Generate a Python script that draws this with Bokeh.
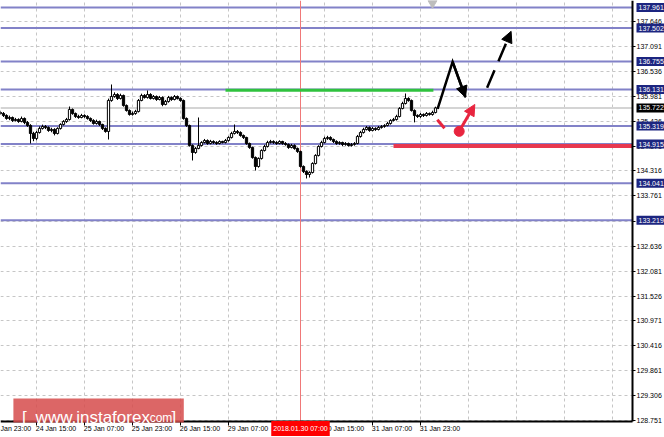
import numpy as np
from bokeh.plotting import figure
from bokeh.models import (ColumnDataSource, LinearAxis, FixedTicker, Grid, Span, Label,
                          Arrow, NormalHead, PrintfTickFormatter)
from bokeh.embed import file_html
from bokeh.resources import INLINE

# ---- hourly bars (bar index 0 = 24 Jan 03:00) ----
opens = [
    135.620, 135.598, 135.553, 135.487, 135.509, 135.442, 135.464, 135.420, 135.487, 135.397,
    135.330, 135.152, 135.041, 135.174, 135.264, 135.308, 135.286, 135.219, 135.241, 135.152,
    135.264, 135.353, 135.420, 135.464, 135.687, 135.598, 135.531, 135.509, 135.553, 135.531,
    135.487, 135.442, 135.375, 135.420, 135.353, 135.264, 135.197, 135.888, 135.977, 136.022,
    135.933, 136.000, 135.777, 135.665, 135.576, 135.598, 135.643, 135.888, 136.000, 135.955,
    136.022, 135.933, 135.977, 135.910, 135.955, 135.799, 135.866, 135.955, 135.910, 135.977,
    135.933, 135.888, 135.487, 135.330, 134.884, 134.728, 134.818, 134.884, 134.951, 134.996,
    134.929, 134.974, 134.951, 134.929, 134.974, 134.951, 134.996, 135.063, 135.152, 135.197,
    135.174, 135.107, 135.063, 134.929, 134.840, 134.617, 134.416, 134.595, 134.773, 134.862,
    134.951, 134.974, 134.951, 134.929, 134.974, 134.929, 134.907, 134.840, 134.884, 134.818,
    134.751, 134.416, 134.305, 134.238, 134.282, 134.483, 134.662, 134.862, 134.951, 135.041,
    135.063, 135.018, 134.974, 134.929, 134.951, 134.907, 134.929, 134.884, 134.907, 134.929,
    135.085, 135.174, 135.241, 135.286, 135.219, 135.264, 135.241, 135.286, 135.308, 135.330,
    135.375, 135.442, 135.464, 135.531, 135.710, 135.821, 135.933, 135.888, 135.665, 135.553,
    135.531, 135.576, 135.553, 135.598, 135.576, 135.620,
]
highs = [
    135.66, 135.63, 135.58, 135.55, 135.53, 135.50, 135.49, 135.53, 135.51, 135.43,
    135.36, 135.19, 135.21, 135.31, 135.35, 135.34, 135.31, 135.28, 135.27, 135.29,
    135.38, 135.45, 135.50, 135.754, 135.71, 135.62, 135.57, 135.59, 135.58, 135.56,
    135.51, 135.47, 135.46, 135.44, 135.37, 135.29, 135.93, 136.245, 136.07, 136.05,
    136.04, 136.02, 135.80, 135.69, 135.64, 135.68, 135.92, 136.04, 136.03, 136.111,
    136.05, 136.01, 136.00, 135.99, 135.98, 135.90, 135.99, 135.98, 136.01, 136.00,
    135.96, 135.91, 135.51, 135.35, 134.91, 134.85, 135.509, 134.98, 135.03, 135.02,
    135.01, 135.00, 134.98, 135.00, 134.99, 135.03, 135.09, 135.19, 135.353, 135.23,
    135.20, 135.13, 135.08, 134.95, 134.86, 134.64, 134.62, 134.80, 134.90, 134.99,
    135.01, 135.00, 134.98, 135.00, 134.99, 134.96, 134.93, 134.92, 134.91, 134.84,
    134.77, 134.44, 134.33, 134.31, 134.51, 134.69, 134.89, 134.99, 135.08, 135.10,
    135.09, 135.04, 135.00, 134.98, 134.97, 134.96, 134.95, 134.94, 134.96, 135.12,
    135.21, 135.28, 135.32, 135.31, 135.30, 135.29, 135.32, 135.34, 135.36, 135.41,
    135.47, 135.50, 135.57, 135.74, 135.86, 136.044, 135.96, 135.91, 135.69, 135.58,
    135.61, 135.60, 135.63, 135.62, 135.66, 135.75,
]
lows = [
    135.57, 135.52, 135.46, 135.45, 135.41, 135.42, 135.39, 135.40, 135.36, 135.30,
    134.929, 134.98, 135.00, 135.15, 135.24, 135.25, 135.19, 135.18, 135.11, 135.13,
    135.24, 135.33, 135.39, 135.44, 135.57, 135.50, 135.48, 135.49, 135.50, 135.46,
    135.41, 135.35, 135.35, 135.32, 135.23, 135.17, 135.018, 135.86, 135.95, 135.90,
    135.91, 135.75, 135.64, 135.55, 135.55, 135.57, 135.62, 135.87, 135.93, 135.93,
    135.91, 135.91, 135.88, 135.89, 135.76, 135.78, 135.84, 135.88, 135.89, 135.91,
    135.86, 135.46, 135.30, 134.86, 134.550, 134.70, 134.80, 134.86, 134.93, 134.90,
    134.91, 134.92, 134.90, 134.91, 134.93, 134.93, 134.97, 135.04, 135.13, 135.14,
    135.08, 135.03, 134.90, 134.81, 134.59, 134.327, 134.39, 134.57, 134.75, 134.84,
    134.93, 134.92, 134.90, 134.91, 134.90, 134.88, 134.81, 134.82, 134.79, 134.72,
    134.39, 134.27, 134.149, 134.17, 134.26, 134.46, 134.64, 134.84, 134.93, 135.01,
    134.99, 134.94, 134.90, 134.90, 134.87, 134.88, 134.86, 134.86, 134.88, 134.91,
    135.06, 135.15, 135.22, 135.19, 135.20, 135.21, 135.22, 135.26, 135.28, 135.31,
    135.35, 135.42, 135.44, 135.51, 135.69, 135.80, 135.86, 135.64, 135.40, 135.50,
    135.50, 135.52, 135.53, 135.55, 135.55, 135.60,
]
closes = [
    135.598, 135.553, 135.487, 135.509, 135.442, 135.464, 135.420, 135.487, 135.397, 135.330,
    135.152, 135.041, 135.174, 135.264, 135.308, 135.286, 135.219, 135.241, 135.152, 135.264,
    135.353, 135.420, 135.464, 135.687, 135.598, 135.531, 135.509, 135.553, 135.531, 135.487,
    135.442, 135.375, 135.420, 135.353, 135.264, 135.197, 135.888, 135.977, 136.022, 135.933,
    136.000, 135.777, 135.665, 135.576, 135.598, 135.643, 135.888, 136.000, 135.955, 136.022,
    135.933, 135.977, 135.910, 135.955, 135.799, 135.866, 135.955, 135.910, 135.977, 135.933,
    135.888, 135.487, 135.330, 134.884, 134.728, 134.818, 134.884, 134.951, 134.996, 134.929,
    134.974, 134.951, 134.929, 134.974, 134.951, 134.996, 135.063, 135.152, 135.197, 135.174,
    135.107, 135.063, 134.929, 134.840, 134.617, 134.416, 134.595, 134.773, 134.862, 134.951,
    134.974, 134.951, 134.929, 134.974, 134.929, 134.907, 134.840, 134.884, 134.818, 134.751,
    134.416, 134.305, 134.238, 134.282, 134.483, 134.662, 134.862, 134.951, 135.041, 135.063,
    135.018, 134.974, 134.929, 134.951, 134.907, 134.929, 134.884, 134.907, 134.929, 135.085,
    135.174, 135.241, 135.286, 135.219, 135.264, 135.241, 135.286, 135.308, 135.330, 135.375,
    135.442, 135.464, 135.531, 135.710, 135.821, 135.933, 135.888, 135.665, 135.553, 135.531,
    135.576, 135.553, 135.598, 135.576, 135.620, 135.722,
]

# ---- time scale (bar index of each tick) ----
time_ticks = [12, 28, 44, 60, 76, 92, 108, 124, 140]
time_labels = ["24 Jan 15:00", "25 Jan 07:00", "25 Jan 23:00", "26 Jan 15:00",
               "29 Jan 07:00", "29 Jan 23:00", "30 Jan 15:00", "31 Jan 07:00", "31 Jan 23:00"]
edge_label = "Jan 23:00"        # 23 Jan 23:00, tick lies left of the first bar
grid_x = [12, 28, 44, 60, 76, 92, 108, 124, 140, 156, 172, 188, 204]
price_ticks = [128.751, 129.306, 129.861, 130.416, 130.971, 131.526, 132.081, 132.636,
               133.191, 133.761, 134.316, 134.871, 135.426, 135.981, 136.536, 137.091, 137.646]

# ---- drawn objects ----
levels = [137.961, 137.502, 136.755, 136.131, 135.319, 134.915, 134.041, 133.219]
bid_price = 135.722
cursor_bar, cursor_text = 100, "2018.01.30 07:00"
green_y, green_x = 136.115, [75, 144.3]
red_y, red_x = 134.875, [131, 632 / 3]
path_x, path_y = [145.7, 150.7, 155.0], [135.70, 136.75, 135.96]
dash_start, dash_end = (162.2, 136.17), (170.2, 137.43)
red_tick_x, red_tick_y = [145.6, 148.0], [135.46, 135.27]
red_dot = (152.9, 135.20)
red_arrow_end = (158.1, 135.80)

# chart geometry: 3 px per bar, 44.84 px per yen
PX = 1 / 44.84
Y_HI = 138.118
Y_LO = Y_HI - 437 * PX          # bottom of the canvas
Y_AXIS = Y_HI - 421 * PX        # bottom edge of the price area
Y_TIME = Y_HI - 428 * PX        # middle of the time captions
X_END = 632 / 3                 # right edge of the price area
X_MAX = 664 / 3
LABEL_SHIFT = 6.5               # time captions start at their tick
FONT = "Liberation Sans"

o = np.array(opens)
c = np.array(closes)
idx = np.arange(len(closes))
src = ColumnDataSource(dict(
    x=idx, high=highs, low=lows,
    top=np.maximum(o, c), bottom=np.minimum(o, c),
    fill=np.where(c >= o, "white", "black"),
))

p = figure(width=664, height=437, x_range=(0, X_MAX), y_range=(Y_LO, Y_HI),
           x_axis_type=None, y_axis_type=None,
           output_backend="svg", toolbar_location=None,
           min_border_left=0, min_border_right=0, min_border_top=0, min_border_bottom=0,
           background_fill_color="white", border_fill_color="white", outline_line_color=None)

grid_style = dict(grid_line_color="#c6c6c6", grid_line_dash="3 3", grid_line_width=1)
p.add_layout(Grid(dimension=0, ticker=FixedTicker(ticks=grid_x), **grid_style))
p.add_layout(Grid(dimension=1, ticker=FixedTicker(ticks=price_ticks), **grid_style))

for lv in levels:
    p.add_layout(Span(location=lv, dimension="width", line_color="#8282c8",
                      line_width=2, level="underlay"))
p.add_layout(Span(location=bid_price, dimension="width", line_color="#d4d4d4",
                  line_width=2, level="underlay"))
p.add_layout(Span(location=cursor_bar, dimension="height", line_color="#f07878",
                  line_width=1, level="underlay"))

# keep the scale strips (right and bottom) clear of chart lines
p.quad(left=[X_END, 0], right=[X_MAX, X_MAX], bottom=[Y_LO, Y_LO], top=[Y_HI, Y_AXIS],
       fill_color="white", line_color=None)

# candles
p.segment(x0="x", x1="x", y0="low", y1="high", source=src, line_color="black", line_width=1)
p.vbar(x="x", top="top", bottom="bottom", width=0.75, source=src,
       fill_color="fill", line_color="black", line_width=1)

# support / resistance marks
p.line(green_x, [green_y, green_y], line_color="#2fc23e", line_width=3)
p.line(red_x, [red_y, red_y], line_color="#e8384f", line_width=4)

# forecast arrows
p.line(path_x, path_y, line_color="black", line_width=2.5, line_join="miter")
p.add_layout(Arrow(end=NormalHead(size=11, fill_color="black", line_color="black"),
                   x_start=path_x[1], y_start=path_y[1], x_end=path_x[2], y_end=path_y[2],
                   line_color="black", line_width=2.5))
p.add_layout(Arrow(end=NormalHead(size=11, fill_color="black", line_color="black"),
                   x_start=dash_start[0], y_start=dash_start[1],
                   x_end=dash_end[0], y_end=dash_end[1],
                   line_color="black", line_width=2.5, line_dash="19 10"))
p.line(red_tick_x, red_tick_y, line_color="#e8253f", line_width=3)
p.scatter([red_dot[0]], [red_dot[1]], size=10, color="#e8253f")
p.add_layout(Arrow(end=NormalHead(size=11, fill_color="#e8253f", line_color="#e8253f"),
                   x_start=red_dot[0], y_start=red_dot[1],
                   x_end=red_arrow_end[0], y_end=red_arrow_end[1],
                   line_color="#e8253f", line_width=3))

# small marker at the top edge
p.scatter([144], [138.06], marker="inverted_triangle", size=9, color="#bdbdbd")

# price scale along the right edge of the price area
yaxis = LinearAxis(fixed_location=X_END, bounds=(Y_AXIS, Y_HI),
                   ticker=FixedTicker(ticks=price_ticks, minor_ticks=[]),
                   formatter=PrintfTickFormatter(format="%.3f"))
yaxis.axis_line_color = "black"
yaxis.axis_line_width = 2
yaxis.major_tick_line_color = "black"
yaxis.major_tick_out = 3
yaxis.major_tick_in = 0
yaxis.minor_tick_line_color = None
yaxis.major_label_standoff = 1
yaxis.major_label_text_font = FONT
yaxis.major_label_text_font_size = "7px"
yaxis.major_label_text_color = "black"
p.add_layout(yaxis, "right")

# time scale: tick marks at the bars, captions starting at each tick
tick_axis = LinearAxis(fixed_location=Y_AXIS, bounds=(0, X_END),
                       ticker=FixedTicker(ticks=time_ticks, minor_ticks=[]),
                       major_label_overrides={t: "" for t in time_ticks})
tick_axis.axis_line_color = "black"
tick_axis.axis_line_width = 2
tick_axis.major_tick_line_color = "black"
tick_axis.major_tick_out = 4
tick_axis.major_tick_in = 0
tick_axis.minor_tick_line_color = None
p.add_layout(tick_axis, "below")

label_pos = [t + LABEL_SHIFT for t in time_ticks]
label_axis = LinearAxis(fixed_location=Y_AXIS,
                        ticker=FixedTicker(ticks=label_pos, minor_ticks=[]),
                        major_label_overrides=dict(zip(label_pos, time_labels)))
label_axis.axis_line_color = None
label_axis.major_tick_line_color = None
label_axis.minor_tick_line_color = None
label_axis.major_tick_out = 0
label_axis.major_tick_in = 0
label_axis.major_label_standoff = 3
label_axis.major_label_text_font = FONT
label_axis.major_label_text_font_size = "7px"
label_axis.major_label_text_color = "black"
p.add_layout(label_axis, "below")

# caption at the left edge
p.add_layout(Label(x=0, y=Y_TIME, x_offset=0, text=edge_label, text_align="left",
                   text_baseline="middle", text_font=FONT, text_font_size="7px",
                   text_color="black"))

# cursor time tag
p.add_layout(Label(x=cursor_bar, y=Y_TIME, text=cursor_text, text_align="center",
                   text_baseline="middle", text_font=FONT, text_font_size="7px",
                   text_color="white", background_fill_color="#ff0000", padding=(2, 4)))

# level price tags on the right scale
for lv in levels:
    p.add_layout(Label(x=X_END, y=lv, x_offset=4, text=f"{lv:.3f}", text_align="left",
                       text_baseline="middle", text_font=FONT, text_font_size="7px",
                       text_color="white", background_fill_color="#1c2580", padding=2))
p.add_layout(Label(x=X_END, y=bid_price, x_offset=4, text=f"{bid_price:.3f}", text_align="left",
                   text_baseline="middle", text_font=FONT, text_font_size="7px",
                   text_color="white", background_fill_color="black", padding=2))

# watermark badge
p.quad(left=[4.3], right=[61.1], bottom=[Y_HI - 422 * PX], top=[Y_HI - 398 * PX],
       fill_color="#d64b4b", fill_alpha=0.85, line_color=None, level="overlay")
badge_base = Y_HI - 417 * PX
for tx, txt, size in [(7.2, "[", "17px"), (11.7, "www.instaforex", "17px"),
                      (48.6, ".com", "12px"), (57.0, "]", "17px")]:
    p.add_layout(Label(x=tx, y=badge_base, text=txt, text_align="left",
                       text_baseline="alphabetic", text_font=FONT, text_font_size=size,
                       text_color="white", level="overlay"))

open("out.html", "w").write(file_html(p, INLINE))
